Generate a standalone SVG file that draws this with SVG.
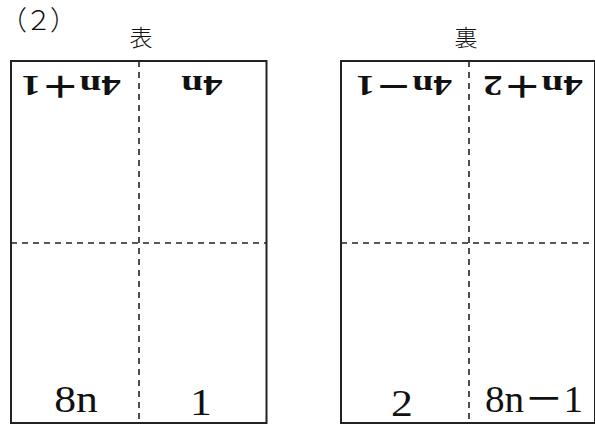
<svg xmlns="http://www.w3.org/2000/svg" width="595" height="426" viewBox="0 0 595 426">
<style>
.frame{fill:none;stroke:#222;stroke-width:2}
.dash{stroke:#222;stroke-width:1.6;stroke-dasharray:6,5;fill:none}
.t{fill:#111;text-anchor:middle;font-family:"Liberation Serif","DejaVu Serif","Noto Sans CJK JP",serif}
.top{font-size:30px;font-weight:bold}
.bot{font-size:38px}
.cjk{fill:#111;text-anchor:middle;font-family:"Noto Sans CJK JP",sans-serif;font-weight:300}
</style>
<rect width="595" height="426" fill="#fff"/>
<text x="0" y="30" class="cjk" font-size="27" letter-spacing="-2" style="text-anchor:start">（２）</text>
<g id="front">
  <text x="141" y="46" class="cjk" font-size="23">表</text>
  <rect class="frame" x="11" y="61" width="255.5" height="362"/>
  <g id="front-top-left"><text class="t top" x="0" y="10" transform="translate(71 86) rotate(180) scale(1.3 1)">4n＋1</text></g>
  <g id="front-top-right"><text class="t top" x="0" y="10" transform="translate(202 86) rotate(180) scale(1.3 1)">4n</text></g>
  <g id="front-bottom-left"><text class="t bot" x="0" y="0" transform="translate(76 412) scale(1.15 1)">8n</text></g>
  <g id="front-bottom-right"><text class="t bot" x="0" y="0" transform="translate(201 415) scale(1.15 1)">1</text></g>
</g>
<g id="back">
  <text x="466" y="46" class="cjk" font-size="23">裏</text>
  <rect class="frame" x="341" y="61" width="254" height="362"/>
  <g id="back-top-left"><text class="t top" x="0" y="10" transform="translate(404 86) rotate(180) scale(1.25 1)">4n－1</text></g>
  <g id="back-top-right"><text class="t top" x="0" y="10" transform="translate(533 86) rotate(180) scale(1.3 1)">4n＋2</text></g>
  <g id="back-bottom-left"><text class="t bot" x="0" y="0" transform="translate(402 416) scale(1.15 1)">2</text></g>
  <g id="back-bottom-right"><text class="t bot" x="534" y="412" textLength="98" lengthAdjust="spacingAndGlyphs">8n－1</text></g>
</g>
<g id="connectors">
  <line class="dash" x1="139" y1="61" x2="139" y2="423"/>
  <line class="dash" x1="11" y1="243" x2="266.5" y2="243"/>
  <line class="dash" x1="469" y1="61" x2="469" y2="423"/>
  <line class="dash" x1="341" y1="243" x2="595" y2="243"/>
</g>
</svg>
